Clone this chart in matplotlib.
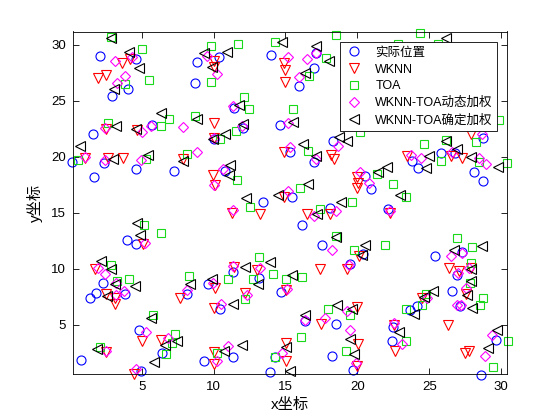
import matplotlib
matplotlib.use("Agg")
import matplotlib.pyplot as plt

plt.rcParams['font.family'] = ['Liberation Sans', 'Noto Sans CJK SC', 'DejaVu Sans']

# --- data (x, y in metres) ---
real_x = [2.07, 2.95, 4.02, 4.58, 1.6, 5.72, 8.86, 8.72, 10.35,
          0.13, 1.67, 2.37, 4.58, 7.25, 4.0, 4.63, 2.3, 1.84, 1.37, 3.81, 9.62, 8.12,
          4.81, 6.44, 0.79, 9.34, 4.97, 10.44,
          14.0, 15.97, 17.0, 17.14, 11.42, 14.63, 12.02, 18.3, 10.02, 15.32,
          16.95, 10.79, 13.42, 15.44, 16.14, 18.07, 17.54, 19.51, 11.33, 13.18, 14.67,
          11.33, 14.28, 13.93, 16.37, 18.53, 18.23, 19.7,
          28.77, 25.79, 23.77, 24.24, 26.79, 28.12, 28.77, 20.51, 20.98, 22.14,
          25.4, 27.31, 26.96, 26.61, 20.37,
          23.65, 24.16, 27.14, 22.42, 22.49, 29.63, 28.63]
real_y = [29.0, 25.4, 26.1, 28.7, 22.0, 22.8, 28.5, 26.6, 28.9,
          19.5, 18.2, 19.4, 18.9, 18.7, 12.55, 12.17, 8.73, 7.83, 7.39, 7.69, 8.59, 7.69,
          4.56, 2.46, 1.87, 1.72, 0.89, 6.35,
          29.1, 26.3, 27.9, 29.3, 24.4, 22.8, 22.6, 21.4, 21.6, 20.4,
          19.5, 18.7, 16.0, 16.4, 13.9, 15.4, 12.1, 10.4, 9.69, 9.18, 7.9,
          2.08, 2.08, 0.76, 5.3, 5.06, 2.17, 0.98,
          21.7, 20.35, 19.6, 19.0, 20.3, 18.6, 17.8, 18.3, 17.1, 15.3,
          11.1, 11.5, 9.42, 7.99, 11.3,
          6.26, 6.64, 6.64, 3.51, 4.76, 3.66, 0.47]

wknn_x = [1.98, 2.5, 3.65, 4.21, 2.5, 4.67, 10.0,
          1.07, 2.64, 3.69, 7.88, 9.97, 10.09, 5.09, 1.72, 2.53, 3.11, 7.65, 10.09,
          3.11, 10.02, 5.05, 6.32, 2.53, 10.02, 10.02, 4.44,
          10.02, 10.0, 14.9, 14.97, 14.97, 10.02, 14.9, 18.2,
          18.35, 19.98, 19.98, 13.23, 14.9, 16.49, 18.12, 11.26, 17.37, 11.42, 13.0, 19.28, 12.18, 15.05,
          17.47, 19.98, 15.05, 15.05, 20.02, 19.98,
          27.9, 23.47, 26.49, 27.31, 26.37, 27.07, 27.88, 22.3, 20.05, 24.51, 27.54, 20.14,
          22.65, 22.53, 26.3, 27.47, 27.77]
wknn_y = [27.0, 27.3, 28.4, 28.7, 22.5, 22.4, 23.0,
          19.9, 19.9, 19.9, 19.8, 18.4, 17.5, 12.2, 9.98, 7.69, 7.39, 7.39, 8.28,
          6.85, 6.44, 3.57, 3.66, 2.55, 2.55, 1.48, 0.58,
          28.6, 28.0, 28.4, 27.8, 26.7, 21.7, 20.4, 20.2,
          19.8, 18.2, 17.2, 14.85, 16.4, 14.85, 14.85, 15.0, 9.93, 10.16, 9.87, 9.93, 7.83, 8.08,
          5.06, 6.55, 3.36, 1.72, 3.27, 1.27,
          22.0, 20.07, 20.07, 19.9, 10.07, 9.78, 10.07, 15.0, 17.7, 7.39, 7.69, 11.1,
          2.68, 5.0, 5.0, 2.46, 2.68]

toa_x = [2.88, 5.05, 5.5, 3.81, 2.64, 6.9, 6.37, 8.7, 9.81, 9.79, 8.12,
         0.55, 5.32, 5.14, 6.37, 2.88, 3.3, 4.11, 8.3,
         5.79, 7.3, 7.07, 6.67, 2.07, 10.2,
         11.72, 14.28, 18.53, 17.84, 16.67, 12.11, 12.48, 15.51, 11.56, 10.44, 20.16,
         11.65, 12.53, 16.02, 17.37, 19.63, 18.53, 13.18, 19.79, 11.02, 14.16, 12.72, 15.05, 16.14, 16.6,
         12.18, 16.07, 17.93, 14.28, 19.23, 19.51,
         24.35, 22.8, 25.6, 29.86, 24.63, 28.24, 26.14,
         25.79, 28.47, 30.38, 22.46, 23.4, 21.37, 21.9, 26.96, 28.0, 27.9, 27.85, 28.74, 24.75,
         23.42, 24.51, 28.53, 23.42, 30.45, 29.47]
toa_y = [30.75, 29.6, 26.9, 26.5, 23.05, 23.35, 22.76, 23.65, 29.86, 26.7, 20.25,
         19.7, 19.8, 13.9, 13.2, 10.3, 8.88, 9.09, 9.33,
         5.84, 4.16, 3.36, 2.37, 2.97, 2.46,
         30.07, 30.3, 30.9, 28.8, 27.2, 25.3, 24.3, 24.3, 22.3, 21.57, 22.2,
         17.9, 15.5, 17.2, 15.3, 16.0, 12.9, 11.0, 11.7, 9.09, 9.48, 9.03, 9.09, 9.27, 20.5,
         7.33, 3.87, 6.35, 2.08, 2.68, 5.9,
         31.1, 30.07, 30.07, 23.27, 21.1, 21.3, 21.5,
         19.6, 19.5, 19.4, 17.6, 16.4, 18.5, 12.1, 12.7, 11.95, 10.5, 8.73, 7.39, 7.69,
         6.35, 6.73, 6.73, 3.57, 3.51, 1.18]

dyn_x = [3.16, 3.27, 3.86, 4.35, 2.41, 5.05, 5.67, 7.84, 8.81, 10.2, 9.51,
         1.02, 2.41, 4.93, 5.21, 1.95, 2.41, 3.23, 3.76, 9.97, 8.12,
         3.18, 5.28, 6.83, 2.53, 10.2, 4.63,
         15.14, 16.49, 15.97, 17.14, 11.37, 11.97, 15.14, 18.63, 10.0, 15.32,
         10.67, 10.0, 11.33, 15.14, 16.95, 18.53, 18.23, 20.2, 13.23, 11.37, 19.39, 15.09, 17.14,
         12.3, 10.49, 11.02, 16.37, 17.77, 19.28, 14.75, 19.46, 19.93,
         28.7, 23.7, 24.4, 26.61, 28.47, 28.98, 20.79, 22.3, 26.49, 27.31, 27.03, 27.77, 27.54, 24.86,
         22.53, 23.12, 27.19, 26.9, 29.4, 28.86]
dyn_y = [28.6, 26.6, 27.2, 28.9, 22.6, 22.2, 22.76, 22.7, 20.4, 27.4, 29.0,
         20.0, 19.7, 19.7, 12.3, 10.07, 9.48, 8.73, 7.99, 8.73, 8.08,
         7.6, 4.34, 3.8, 2.68, 1.72, 1.07,
         28.9, 28.7, 27.1, 29.3, 24.5, 22.76, 23.05, 21.0, 21.7, 20.9,
         18.9, 17.5, 15.2, 16.9, 14.7, 15.15, 11.7, 18.6, 10.07, 10.2, 10.3, 8.14, 19.8,
         7.63, 6.8, 3.06, 5.45, 5.6, 6.2, 2.46, 4.56, 1.57,
         22.0, 20.2, 19.9, 20.4, 19.86, 19.33, 17.7, 15.15, 11.1, 11.4, 9.62, 10.07, 8.28, 7.39,
         5.15, 3.27, 6.73, 6.73, 4.11, 2.17]

fix_x = [2.88, 4.11, 4.81, 3.06, 0.72, 3.18, 4.58, 6.37, 8.81, 9.32, 9.93, 5.44, 9.86,
         2.99, 7.88, 4.7, 4.86, 2.18, 2.88, 3.11, 4.51, 8.35, 9.86,
         2.58, 5.67, 6.6, 7.42, 1.88, 5.83,
         10.91, 14.75, 17.14, 16.37, 11.79, 12.02, 15.55, 10.79, 18.7, 19.28, 16.25, 18.0,
         11.14, 11.09, 12.25, 14.51, 16.6, 17.19, 18.86, 18.53, 20.33, 13.93, 12.18, 15.44, 13.11, 17.09,
         11.37, 16.37, 18.58, 19.63, 10.72, 11.95, 15.05, 15.32, 19.51, 19.79,
         26.14, 26.2, 26.96, 24.98, 27.88, 29.82, 24.75, 22.07, 21.44, 23.0, 20.56, 26.72, 28.7,
         27.88, 27.88, 27.66, 25.26,
         23.93, 22.88, 28.0, 29.7, 29.09, 24.67]
fix_y = [30.6, 29.4, 27.9, 26.1, 21.0, 22.76, 22.46, 23.9, 23.36, 29.26, 21.57, 20.2, 28.0,
         19.8, 19.6, 14.1, 12.97, 10.67, 9.98, 8.67, 8.43, 8.59, 9.09,
         7.54, 5.6, 3.21, 3.57, 2.86, 1.66,
         29.4, 30.3, 29.86, 27.5, 24.6, 22.9, 23.1, 22.0, 21.8, 21.4, 21.1, 28.6,
         19.3, 18.4, 16.3, 16.55, 17.6, 14.85, 16.0, 12.85, 11.2, 10.58, 10.16, 9.39, 8.67, 20.07,
         6.85, 5.9, 6.73, 6.35, 2.61, 3.15, 2.97, 0.89, 3.75, 2.37,
         30.66, 21.4, 20.7, 20.07, 19.98, 19.1, 19.0, 19.1, 18.6, 16.6, 12.1, 11.7, 12.0,
         9.93, 8.88, 7.63, 7.99,
         5.95, 4.32, 6.49, 4.56, 2.91, 7.45]

labels = ['实际位置', 'WKNN', 'TOA', 'WKNN-TOA动态加权', 'WKNN-TOA确定加权']

fig = plt.figure(figsize=(5.6, 4.2), dpi=100)
ax = fig.add_axes([0.13, 0.11, 0.775, 0.815])

# hollow markers, MATLAB style colours
ms = 6.5
ax.plot(real_x, real_y, 'o', mfc='none', mec=(0, 0, 1), ms=ms, mew=0.8, clip_on=False, label=labels[0])
ax.plot(wknn_x, wknn_y, 'v', mfc='none', mec=(1, 0, 0), ms=ms, mew=0.8, clip_on=False, label=labels[1])
ax.plot(toa_x, toa_y, 's', mfc='none', mec=(0.1, 0.85, 0.1), ms=ms - 0.5, mew=0.8, clip_on=False, label=labels[2])
ax.plot(dyn_x, dyn_y, 'D', mfc='none', mec=(1, 0, 1), ms=ms - 1, mew=0.8, clip_on=False, label=labels[3])
ax.plot(fix_x, fix_y, '<', mfc='none', mec='k', ms=ms, mew=0.8, clip_on=False, label=labels[4])

ax.set_xlim(0.2, 30.4)
ax.set_ylim(0.6, 31.2)
ax.set_xticks([5, 10, 15, 20, 25, 30])
ax.set_yticks([5, 10, 15, 20, 25, 30])
ax.tick_params(direction='in', top=True, right=True, length=4, width=0.6, labelsize=9.5, pad=5)
for s in ax.spines.values():
    s.set_linewidth(0.6)

ax.set_xlabel('x坐标', fontsize=11, labelpad=4)
ax.set_ylabel('y坐标', fontsize=11, labelpad=6)

leg = ax.legend(loc='upper right', bbox_to_anchor=(0.978, 0.968), borderaxespad=0,
                fontsize=9, fancybox=False, framealpha=1, edgecolor='k',
                handletextpad=0.9, labelspacing=0.38, borderpad=0.35, handlelength=1.6)
leg.get_frame().set_linewidth(0.6)
leg.set_zorder(5)

fig.savefig('out.png', dpi=100)
